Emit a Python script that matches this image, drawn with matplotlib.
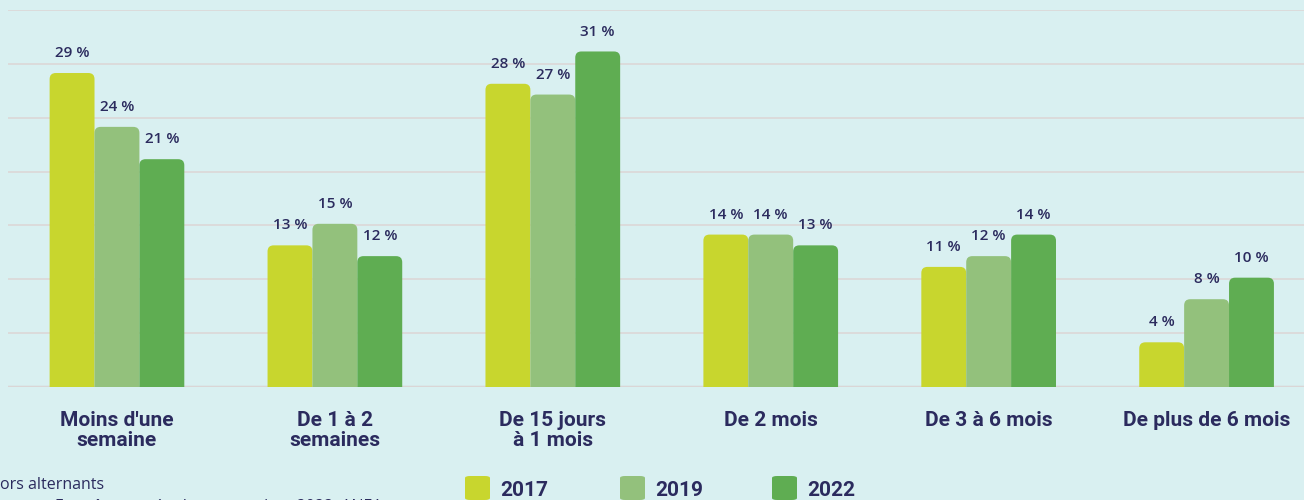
import matplotlib.pyplot as plt
from matplotlib.patches import FancyBboxPatch
import numpy as np

categories = ["Moins d'une\nsemaine", "De 1 à 2\nsemaines", "De 15 jours\nà 1 mois",
              "De 2 mois", "De 3 à 6 mois", "De plus de 6 mois"]
years = ["2017", "2019", "2022"]
v2017 = [29, 13, 28, 14, 11, 4]
v2019 = [24, 15, 27, 14, 12, 8]
v2022 = [21, 12, 31, 13, 14, 10]
series = [v2017, v2019, v2022]
colors = ['#c8d62e', '#93c17c', '#5fad52']

bg = '#d9f0f1'
navy = '#2b2b5e'

fig = plt.figure(figsize=(13.04, 5), dpi=100, facecolor=bg)
ax = fig.add_axes([8/1304, 113/500, 1296/1304, 377/500])
ax.set_facecolor(bg)

x = np.arange(len(categories))
w = 0.206
px_x = 218.0
px_y = 377 / 35.0
aspect = px_x / px_y
for i, vals in enumerate(series):
    bars = ax.bar(x + (i - 1) * w, vals, w, color=colors[i], zorder=2)
    for b, v in zip(bars, vals):
        b.set_visible(False)
        p = FancyBboxPatch((b.get_x(), -2), b.get_width(), v + 2.15,
                           boxstyle="round,pad=0,rounding_size=0.028",
                           mutation_aspect=aspect, fc=colors[i], ec='none', zorder=2)
        ax.add_patch(p)
        ax.text(b.get_x() + b.get_width() / 2, v + 1.35, f"{v} %", ha='center', va='bottom',
                fontsize=11, color=navy, family='Open Sans', weight='semibold')

ax.set_xlim(-0.5, 5.447)
ax.set_ylim(0, 35)
ax.set_yticks(np.arange(0, 36, 5))
ax.yaxis.grid(True, color='#dcd7d7', lw=1.2, zorder=0)
ax.axhline(0, color='#d6d2d2', lw=2.5, zorder=1)
ax.set_xticks(x)
ax.set_xticklabels(categories, fontsize=15, color=navy, family='Roboto',
                   weight='bold', linespacing=1.08)
ax.tick_params(axis='x', length=0, pad=17)
ax.tick_params(axis='y', length=0, labelleft=False)
for s in ax.spines.values():
    s.set_visible(False)

# legend
lx = [465, 620, 772]
for i, yr in enumerate(years):
    fig.patches.append(FancyBboxPatch((lx[i] / 1304, 0.0), 25 / 1304, 24 / 500,
                                      boxstyle="round,pad=0,rounding_size=0.004",
                                      transform=fig.transFigure, fc=colors[i], ec='none'))
    fig.text((lx[i] + 35) / 1304, 10 / 500, yr, fontsize=15, color=navy,
             family='Roboto', weight='bold', va='center')

fig.text(0, 15 / 500, "ors alternants", fontsize=11.5, color=navy, family='Open Sans', va='center')
fig.text(55 / 1304, -7 / 500, "Enquête auprès des entreprises 2022, ANEA", fontsize=11.5,
         color=navy, family='Open Sans', va='center')

plt.savefig('out.png', dpi=100, facecolor=bg)
